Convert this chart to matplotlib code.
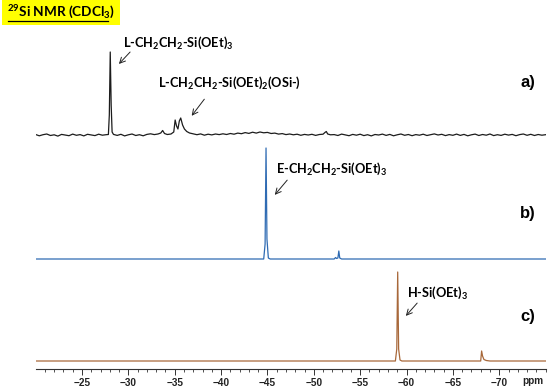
import matplotlib.pyplot as plt
from matplotlib.lines import Line2D

plt.rcParams['mathtext.fontset'] = 'custom'
plt.rcParams['mathtext.rm'] = 'Lato'
plt.rcParams['mathtext.bf'] = 'Lato:bold'

# trace a) L-CH2CH2-Si(OEt)3, noisy spectrum (ppm, intensity)
ppm_a = [-20.0, -20.4, -20.8, -21.2, -21.6, -22.0, -22.4, -22.8, -23.2, -23.6,
         -24.0, -24.4, -24.8, -25.2, -25.6, -26.0, -26.4, -26.8, -27.2, -27.6,
         -27.85, -27.95, -28.05, -28.15, -28.25, -28.4,
         -28.8, -29.2, -29.6, -30.0, -30.4, -30.8, -31.2, -31.6, -32.0, -32.4, -32.8, -33.2,
         -33.5, -33.7, -33.9, -34.2, -34.6, -34.9, -35.05, -35.2, -35.35, -35.5, -35.65,
         -35.85, -36.05, -36.3, -36.6, -37.0,
         -37.4, -37.8, -38.2, -38.6, -39.0, -39.4, -39.8, -40.2, -40.6, -41.0, -41.4,
         -41.8, -42.2, -42.6, -43.0, -43.4, -43.8, -44.2, -44.6, -45.0, -45.4, -45.8,
         -46.2, -46.6, -47.0, -47.4, -47.8, -48.2, -48.6, -49.0, -49.4, -49.8, -50.2, -50.6,
         -51.0, -51.2, -51.35, -51.5, -51.8,
         -52.2, -52.6, -53.0, -53.4, -53.8, -54.2, -54.6, -55.0, -55.4, -55.8, -56.2,
         -56.6, -57.0, -57.4, -57.8, -58.2, -58.6, -59.0, -59.4, -59.8, -60.2, -60.6,
         -61.0, -61.4, -61.8, -62.2, -62.6, -63.0, -63.4, -63.8, -64.2, -64.6, -65.0,
         -65.4, -65.8, -66.2, -66.6, -67.0, -67.4, -67.8, -68.2, -68.6, -69.0, -69.4,
         -69.8, -70.2, -70.6, -71.0, -71.4, -71.8, -72.2, -72.6, -73.0, -73.4, -73.8,
         -74.2, -74.6, -75.0]
int_a = [0.5, -0.8, 0.3, 1.0, -0.5, 0.2, -1.1, 0.6, 0.0, -0.7,
         0.9, -0.3, 0.4, -0.9, 0.7, 0.1, -0.6, 0.8, -0.2, 0.3,
         0.5, 20, 83, 30, 3, 0.6,
         -0.4, 0.7, -0.9, 0.2, 1.0, -0.5, 0.3, -0.8, 0.6, 1.2, 0.4, 1.0,
         2.0, 4.5, 1.5, 0.5, 1.0, 3.0, 15, 9, 6, 14, 17,
         10, 6, 3.5, 2.0, 1.2,
         0.3, 1.1, -0.2, 0.8, 0.1, 1.0, 0.4, 1.2, 0.5, 1.5, 0.8,
         1.9, 1.3, 2.4, 1.6, 2.8, 1.9, 3.0, 2.2, 2.6, 1.5, 1.9,
         0.9, 1.4, 0.4, 1.0, 0.2, 0.8, -0.3, 0.6, 0.0, 0.7, -0.4, 0.5,
         0.8, 2.5, 3.5, 1.0, 0.2,
         0.4, -0.5, 0.9, 0.1, -0.7, 0.6, -0.2, 0.8, -0.6, 0.3, -0.9,
         0.5, 0.0, 0.9, -0.4, 0.6, -0.8, 0.2, 1.0, -0.3, 0.5, -0.7,
         0.4, -0.2, 0.8, -0.5, 0.3, 1.1, 0.0, 0.7, -0.6, 0.4, -0.3,
         0.9, -0.4, 0.6, -0.8, 0.2, 0.9, -0.5, 0.5, -0.2, 1.0, -0.6,
         0.3, -0.4, 0.8, -0.1, 0.6, -0.7, 0.4, 1.0, -0.3, 0.7, -0.5,
         0.5, -0.2, 0.3]

# trace b) E-CH2CH2-Si(OEt)3
ppm_b = [-20.0, -44.6, -44.75, -44.85, -44.95, -45.1, -45.3,
         -52.2, -52.35, -52.45, -52.6, -52.7, -52.8, -53.0, -75.0]
int_b = [0, 0, 15, 111, 20, 1, 0,
         0, 1.5, 0.5, 1, 8, 1, 0, 0]

# trace c) H-Si(OEt)3
ppm_c = [-20.0, -58.8, -58.95, -59.05, -59.15, -59.3, -59.5,
         -68.0, -68.1, -68.2, -68.35, -68.6, -69.0, -75.0]
int_c = [0, 0, 12, 89, 12, 1, 0,
         0, 10, 5, 1.5, 0.5, 0, 0]

offsets = [234, 110, 8]
colors = ['#1c1c1c', '#2f6bb3', '#a8683a']
tick_vals = [-25, -30, -35, -40, -45, -50, -55, -60, -65, -70]

W, H = 550, 391
fig = plt.figure(figsize=(5.5, 3.91), dpi=100)
ax = fig.add_axes([35.6 / W, 22 / H, 510 / W, 369 / H])


def fpx(x, y):
    return (x / W, 1 - y / H)


for p, v, off, c in zip([ppm_a, ppm_b, ppm_c], [int_a, int_b, int_c], offsets, colors):
    ax.plot(p, [off + i for i in v], color=c, lw=0.9)

ax.set_xlim(-20, -75)
ax.set_ylim(0, 369)
for s in ['left', 'right', 'top']:
    ax.spines[s].set_visible(False)
ax.spines['bottom'].set_linewidth(0.8)
ax.spines['bottom'].set_color('#333333')
ax.set_yticks([])
ax.set_xticks(tick_vals)
ax.set_xticks(range(-21, -76, -1), minor=True)
ax.tick_params(axis='x', which='major', length=4, width=0.7, colors='#333333', pad=2.5)
ax.tick_params(axis='x', which='minor', length=2, width=0.6, colors='#333333')
for lab in ax.get_xticklabels():
    lab.set_fontfamily('Liberation Sans')
    lab.set_fontweight('bold')
    lab.set_fontsize(7.2)
    lab.set_color('#222222')
fig.text(*fpx(533, 381), 'ppm', ha='center', va='center', family='Liberation Sans',
         fontweight='bold', fontsize=7.2, color='#222222')

# title box
fig.text(*fpx(7, 12), r'$\mathbf{^{29}}$Si NMR (CDCl$\mathbf{_3}$)', ha='left', va='center',
         family='Lato', fontweight='bold', fontsize=9.8,
         bbox=dict(facecolor='#ffff00', edgecolor='none', pad=3.5), zorder=1)
fig.add_artist(Line2D([8 / W, 108 / W], [1 - 21 / H, 1 - 21 / H], color='black', lw=0.9,
                      zorder=5))

lbl = dict(family='Lato', fontweight='bold', fontsize=9.2, va='center', ha='left')
arrow = dict(arrowstyle='->', color='#222222', lw=0.7)
notes = [
    (r'L-CH$_\mathbf{2}$CH$_\mathbf{2}$-Si(OEt)$_\mathbf{3}$', (123, 43), (132, 50), (117, 66)),
    (r'L-CH$_\mathbf{2}$CH$_\mathbf{2}$-Si(OEt)$_\mathbf{2}$(OSi-)', (158, 83), (206, 97), (190, 118)),
    (r'E-CH$_\mathbf{2}$CH$_\mathbf{2}$-Si(OEt)$_\mathbf{3}$', (276, 169), (289, 178), (273, 197)),
    (r'H-Si(OEt)$_\mathbf{3}$', (407, 293), (419, 301), (404, 318)),
]
for txt, tp, a0, a1 in notes:
    fig.text(*fpx(*tp), txt, **lbl)
    ax.annotate('', xy=fpx(*a1), xycoords='figure fraction', xytext=fpx(*a0),
                textcoords='figure fraction', arrowprops=arrow)

for t, y in zip(['a)', 'b)', 'c)'], [82, 213, 317]):
    fig.text(*fpx(528, y), t, ha='center', va='center', family='Liberation Sans',
             fontweight='bold', fontsize=12)

fig.savefig('out.png', dpi=100)
